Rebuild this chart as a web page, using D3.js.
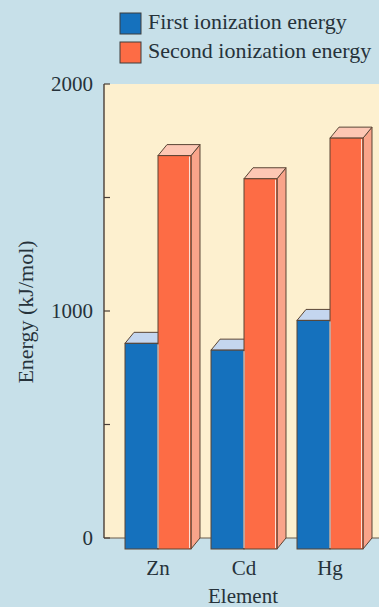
<!DOCTYPE html>
<html><head><meta charset="utf-8">
<script src="https://cdn.jsdelivr.net/npm/d3@7"></script>
<style>html,body{margin:0;padding:0;background:#c7e0e9;}svg{display:block;}</style>
</head><body>
<svg id="c" width="379" height="607"></svg>
<script>
const elements = ["Zn", "Cd", "Hg"];
const firstIE = [906, 876, 1007];
const secondIE = [1733, 1631, 1810];
const seriesNames = ["First ionization energy", "Second ionization energy"];
const yTicks = [0, 500, 1000, 1500, 2000];
const yTickLabels = [0, 1000, 2000];

const W = 379, H = 607;
const svg = d3.select("#c");
const font = "'Liberation Serif', 'DejaVu Serif', serif";
const ink = "#26323a";
const outline = "#5a4535";
const DX = 9, DY = 11; // depth offset

const y = d3.scaleLinear().domain([0, 2000]).range([538, 84]);
const x = d3.scaleBand().domain(elements).range([115, 373]).paddingInner(0.2326).paddingOuter(0.1163);

svg.append("rect").attr("width", W).attr("height", H).attr("fill", "#c7e0e9");

// panel (back wall)
svg.append("rect").attr("x", 104).attr("y", y(2000)).attr("width", W - 104 + 5)
  .attr("height", y(0) - y(2000)).attr("fill", "#fdf0cf");
svg.append("line").attr("x1", 104).attr("x2", W).attr("y1", y(0)).attr("y2", y(0))
  .attr("stroke", "#6b5a4a").attr("stroke-width", 1.2);
svg.append("line").attr("x1", 104).attr("x2", 104).attr("y1", y(2000)).attr("y2", y(0))
  .attr("stroke", "#4a3e36").attr("stroke-width", 1.4);

// ticks (inward)
svg.append("g").selectAll("line").data(yTicks).join("line")
  .attr("x1", 104).attr("x2", 110).attr("y1", d => y(d)).attr("y2", d => y(d))
  .attr("stroke", "#4a3e36").attr("stroke-width", 1.2);
svg.append("g").selectAll("text").data(yTickLabels).join("text")
  .attr("x", 93).attr("y", d => y(d)).attr("dy", "0.32em").attr("text-anchor", "end")
  .attr("font-family", font).attr("font-size", 21).attr("fill", ink).text(d => d);

svg.append("text").attr("transform", "translate(33,312) rotate(-90)")
  .attr("text-anchor", "middle").attr("font-family", font).attr("font-size", 22)
  .attr("fill", ink).text("Energy (kJ/mol)");

// bars
const data = elements.map((e, i) => ({ e, v1: firstIE[i], v2: secondIE[i] }));
const colors = {
  blueFront: "#1571bd", blueTop: "#c4d6ef",
  orFront: "#fd6c45", orTop: "#fdc7b4", orSide: "#f9a48a"
};
const poly = pts => pts.map(p => p.join(",")).join(" ");
const g = svg.append("g").selectAll("g").data(data).join("g");
g.each(function (d) {
  const s = d3.select(this);
  const x0 = x(d.e), bw = x.bandwidth(), xm = x0 + bw / 2, x1 = x0 + bw;
  const yb = y(0) + DY;
  const t1 = y(d.v1) + DY, t2 = y(d.v2) + DY;
  s.append("polygon").attr("points", poly([[x0, t1], [x0 + DX, t1 - DY], [xm + DX, t1 - DY], [xm, t1]]))
    .attr("fill", colors.blueTop).attr("stroke", outline).attr("stroke-width", 1);
  s.append("rect").attr("x", x0).attr("y", t1).attr("width", xm - x0).attr("height", yb - t1)
    .attr("fill", colors.blueFront).attr("stroke", outline).attr("stroke-width", 1);
  s.append("polygon").attr("points", poly([[x1, t2], [x1 + DX, t2 - DY], [x1 + DX, y(0)], [x1, yb]]))
    .attr("fill", colors.orSide).attr("stroke", outline).attr("stroke-width", 1);
  s.append("polygon").attr("points", poly([[xm, t2], [xm + DX, t2 - DY], [x1 + DX, t2 - DY], [x1, t2]]))
    .attr("fill", colors.orTop).attr("stroke", outline).attr("stroke-width", 1);
  s.append("rect").attr("x", xm).attr("y", t2).attr("width", x1 - xm).attr("height", yb - t2)
    .attr("fill", colors.orFront).attr("stroke", outline).attr("stroke-width", 1);
  s.append("line").attr("x1", xm).attr("x2", xm).attr("y1", t1 + 1).attr("y2", yb - 1)
    .attr("stroke", "#e8eef5").attr("stroke-width", 1);
  s.append("line").attr("x1", x1 - 1.5).attr("x2", x1 - 1.5).attr("y1", t2 + 1).attr("y2", yb - 1)
    .attr("stroke", "#fde2d6").attr("stroke-width", 1);
});

// x labels
svg.append("g").selectAll("text").data(elements).join("text")
  .attr("x", d => x(d) + x.bandwidth() / 2).attr("y", 575).attr("text-anchor", "middle")
  .attr("font-family", font).attr("font-size", 21).attr("fill", ink).text(d => d);
svg.append("text").attr("x", 243).attr("y", 603).attr("text-anchor", "middle")
  .attr("font-family", font).attr("font-size", 21).attr("fill", ink).text("Element");

// legend
const legColors = [colors.blueFront, colors.orFront];
const lg = svg.append("g").selectAll("g").data(seriesNames).join("g")
  .attr("transform", (d, i) => `translate(120,${13 + i * 29})`);
lg.append("rect").attr("width", 21).attr("height", 21)
  .attr("fill", (d, i) => legColors[i]).attr("stroke", "#3d3d3d").attr("stroke-width", 1);
lg.append("text").attr("x", 28).attr("y", 16).attr("font-family", font).attr("font-size", 22)
  .attr("fill", ink).text(d => d);
</script>
</body></html>
